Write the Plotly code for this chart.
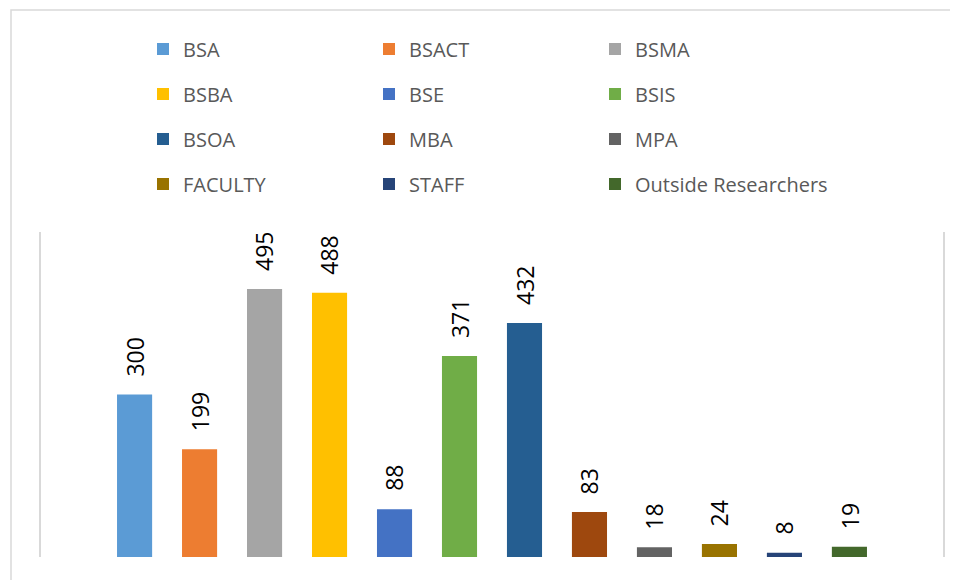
import plotly.graph_objects as go

categories = ["BSA", "BSACT", "BSMA", "BSBA", "BSE", "BSIS", "BSOA", "MBA", "MPA",
              "FACULTY", "STAFF", "Outside Researchers"]
values = [300, 199, 495, 488, 88, 371, 432, 83, 18, 24, 8, 19]
colors = ["#5B9BD5", "#ED7D31", "#A5A5A5", "#FFC000", "#4472C4", "#70AD47",
          "#255E91", "#9E480E", "#636363", "#997300", "#264478", "#43682B"]

OFF = 8  # page body margin
W, H = 958 - OFF, 580 - OFF
L, R, T, B = 41 - OFF, 15, 232 - OFF, 23
pw = W - L - R
ph = H - T - B

def px_x(p):
    return (p - OFF - L) / pw

def px_y(p):
    return (H - B - (p - OFF)) / ph

row_y = [49, 94, 139, 184]
col_x = [143, 369, 595]

fig = go.Figure()
legend_cfg = {}
for i, (c, v, col) in enumerate(zip(categories, values, colors)):
    lname = "legend" if i == 0 else "legend%d" % (i + 1)
    fig.add_trace(go.Bar(
        x=[i], y=[v], name=c, marker=dict(color=col, line=dict(width=0)),
        width=0.54, legend=lname, hoverinfo="skip",
    ))
    fig.add_annotation(
        x=i, y=v, text=str(v), textangle=-90, showarrow=False,
        xanchor="center", yanchor="bottom", yshift=16,
        font=dict(family="Open Sans", size=23, color="#000000"),
    )
    legend_cfg[lname] = dict(
        orientation="h", x=px_x(col_x[i % 3]), xanchor="left",
        y=px_y(row_y[i // 3]), yanchor="middle",
        font=dict(family="Open Sans", size=20, color="#595959"),
        bgcolor="rgba(0,0,0,0)", itemclick=False, itemdoubleclick=False,
    )

fig.update_layout(
    width=W, height=H,
    margin=dict(l=L, r=R, t=T, b=B),
    paper_bgcolor="white", plot_bgcolor="white",
    barmode="overlay",
    showlegend=True,
    xaxis=dict(range=[-1.44, 12.44], showticklabels=False, showgrid=False,
               zeroline=False, showline=False, fixedrange=True),
    yaxis=dict(range=[0, 600], showticklabels=False, showgrid=False, zeroline=False,
               showline=True, mirror=True, linecolor="#D9D9D9", linewidth=2, ticks="",
               fixedrange=True),
    shapes=[dict(type="rect", xref="paper", yref="paper",
                 x0=px_x(11), x1=px_x(975), y0=px_y(600), y1=px_y(10),
                 line=dict(color="#D9D9D9", width=1.5), fillcolor="rgba(0,0,0,0)",
                 layer="below")],
    **legend_cfg,
)

fig.write_html("out.html", config={"displayModeBar": False})
